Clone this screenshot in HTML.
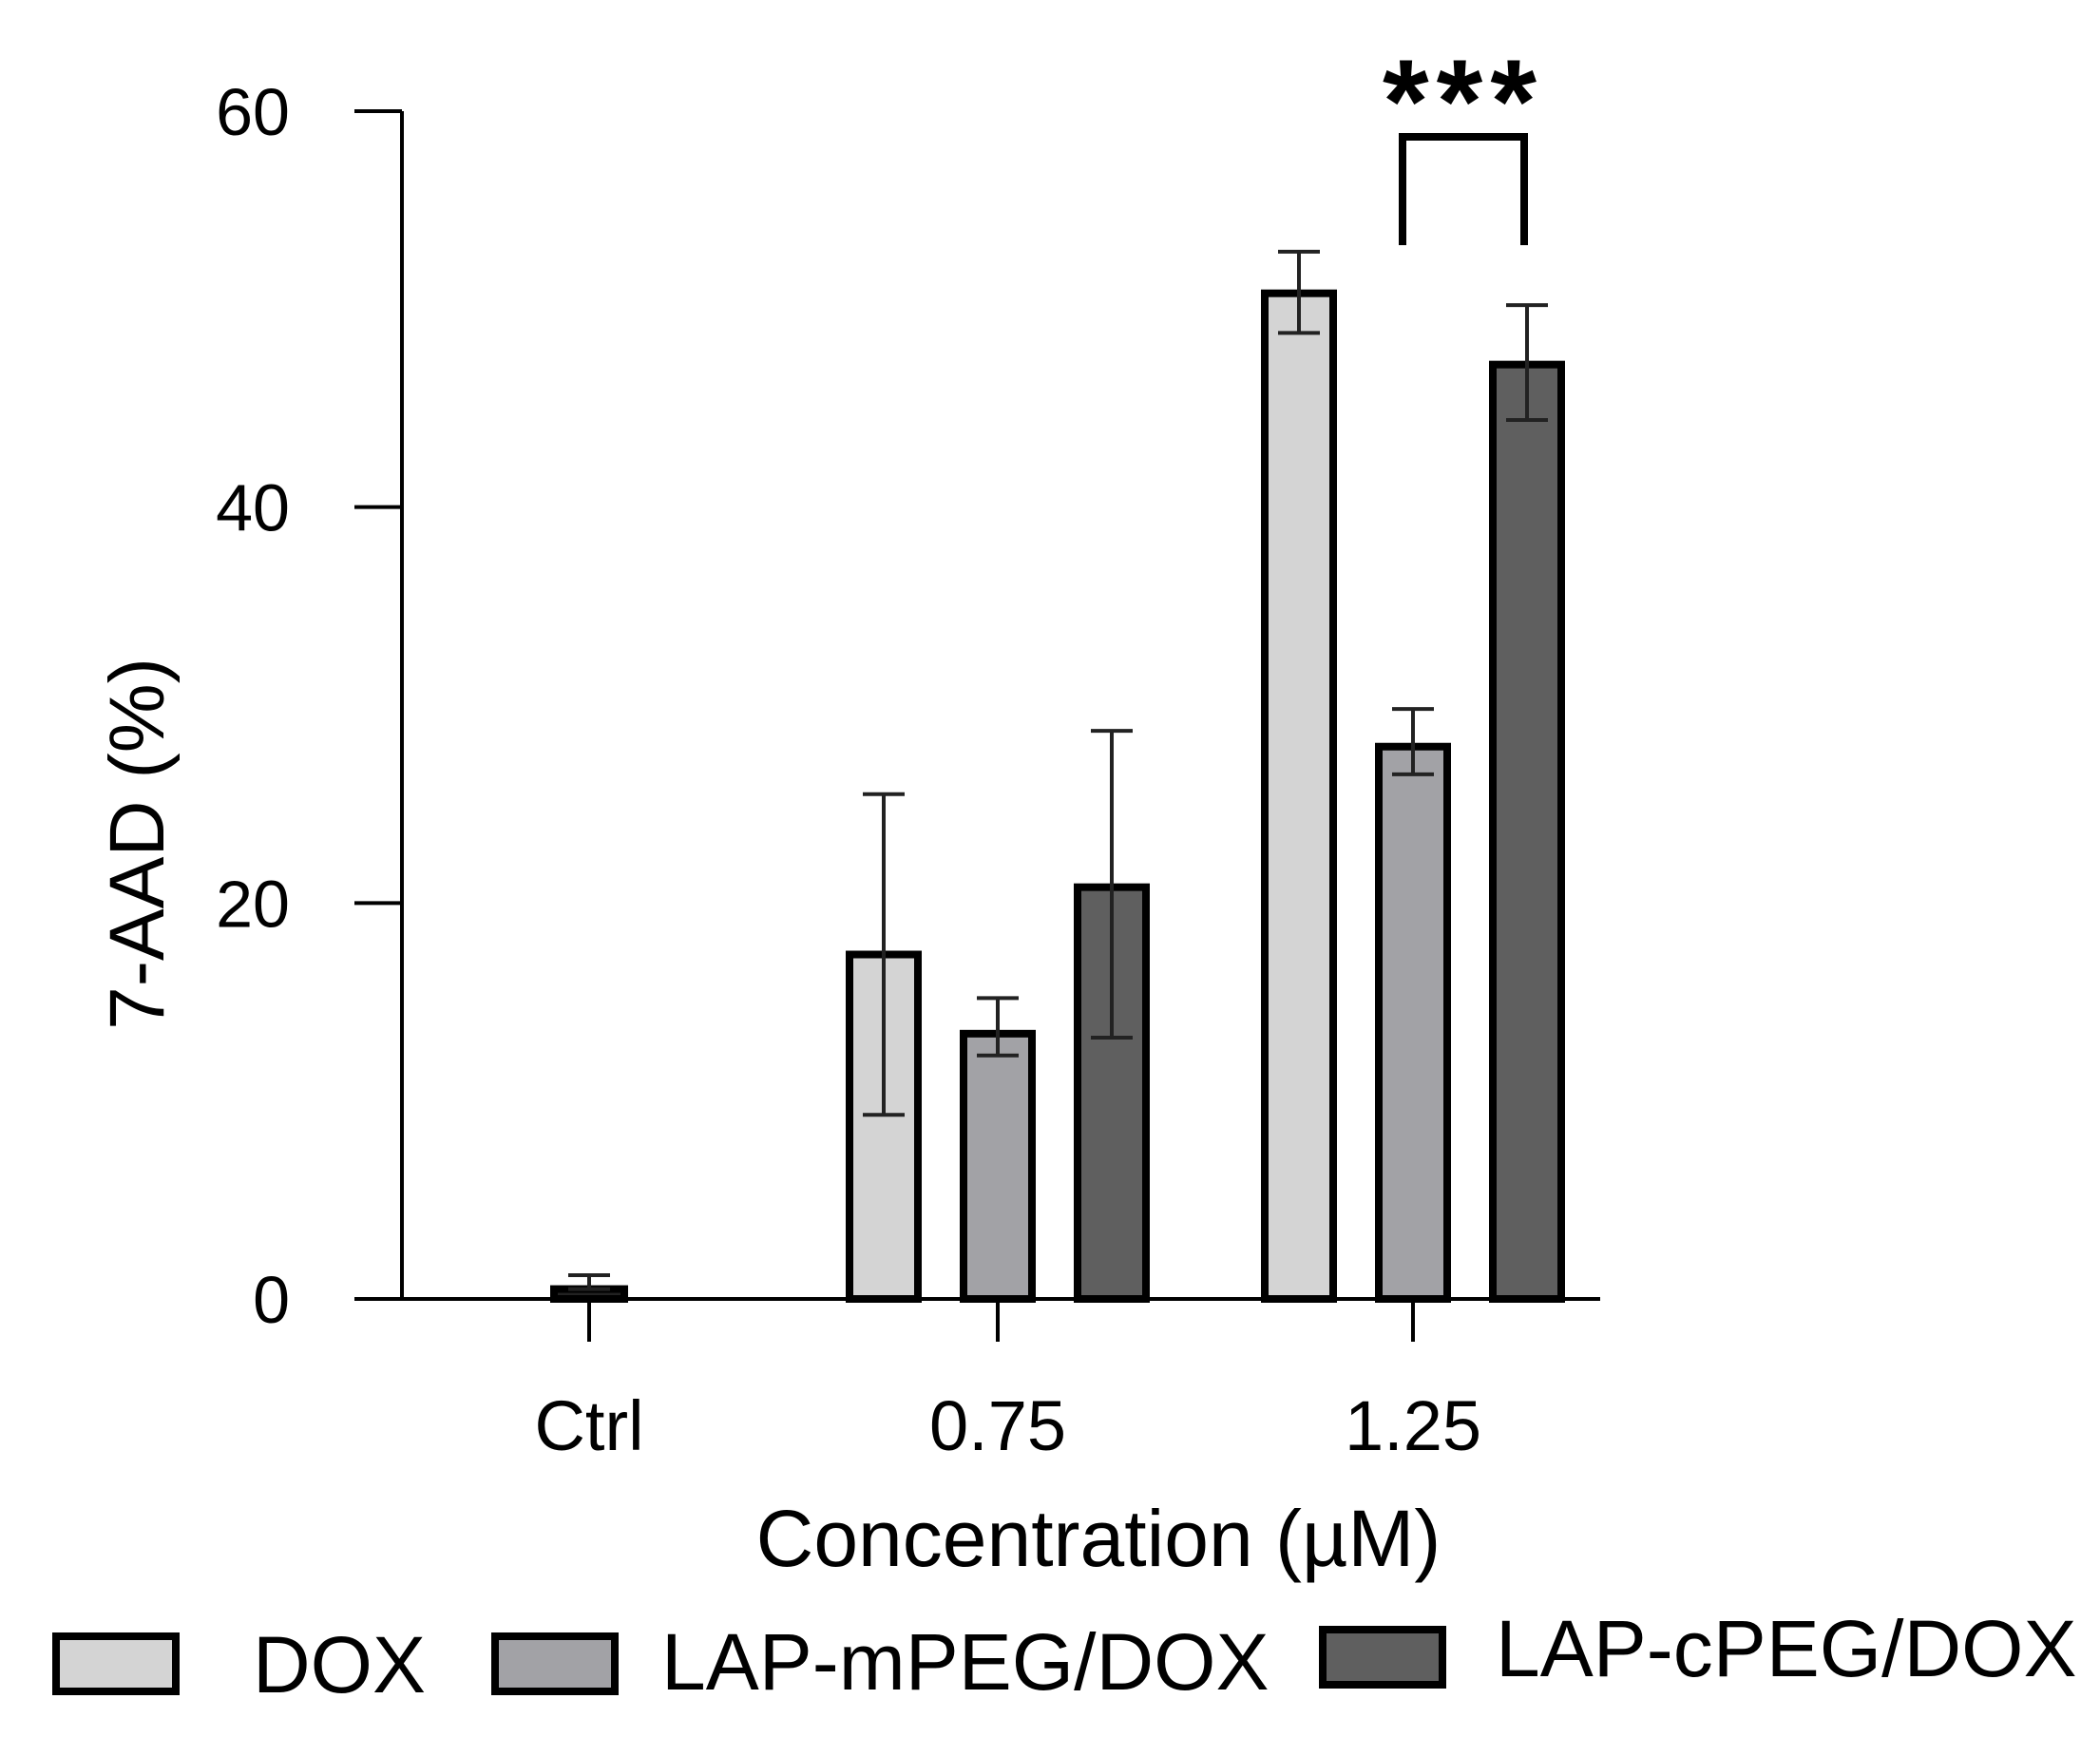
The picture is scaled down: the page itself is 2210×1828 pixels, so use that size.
<!DOCTYPE html>
<html><head><meta charset="utf-8"><style>
html,body{margin:0;padding:0;background:#fff;}
svg{display:block;font-family:"Liberation Sans",Arial,sans-serif;}
</style></head><body>
<svg id="chart" width="2210" height="1828" viewBox="0 0 2210 1828">
<g id="marks"></g>
</svg>
<script>
const categories = ["Ctrl","0.75","1.25"];
const seriesNames = ["DOX","LAP-mPEG/DOX","LAP-cPEG/DOX"];
const doxValues = [null,17.4,50.8];
const doxErr = [null,[9.3,25.5],[48.8,52.9]];
const mpegValues = [0.5,13.4,27.9];
const mpegErr = [[0.5,1.2],[12.3,15.2],[26.5,29.8]];
const cpegValues = [null,20.8,47.2];
const cpegErr = [null,[13.2,28.7],[44.4,50.2]];
const yTicks = [0,20,40,60];

const NS="http://www.w3.org/2000/svg";
const g=document.getElementById('marks');
function el(t,a,p){const e=document.createElementNS(NS,t);for(const k in a)e.setAttribute(k,a[k]);(p||g).appendChild(e);return e;}
const y=v=>1367-(v/60)*1250;
const catX=[620,1050,1487];
const bw=72, gap=120;
const fills=["#d4d4d4","#a2a2a6","#5f5f5f"];
const vals=[doxValues,mpegValues,cpegValues];
const errs=[doxErr,mpegErr,cpegErr];

let ax=el('line',{x1:423,y1:117,x2:423,y2:1367,stroke:'#000','stroke-width':4});

let xa=el('line',{x1:373,y1:1367,x2:1684,y2:1367,stroke:'#000','stroke-width':4});

yTicks.forEach(t=>{
  const l=el('line',{x1:373,y1:y(t),x2:423,y2:y(t),stroke:'#000','stroke-width':4});
  
  const tx=el('text',{x:305,y:y(t)+25,'font-size':70,'text-anchor':'end'});tx.textContent=t;
  
});
categories.forEach((c,i)=>{
  const l=el('line',{x1:catX[i],y1:1367,x2:catX[i],y2:1412,stroke:'#000','stroke-width':4});
  
  const tx=el('text',{x:catX[i],y:1526,'font-size':74,'text-anchor':'middle'});tx.textContent=c;
  
});
categories.forEach((c,i)=>{
  vals.forEach((arr,s)=>{
    const v=arr[i]; if(v==null) return;
    const cx = (i===0)? catX[i] : catX[i]+(s-1)*gap;
    const w = (i===0)?74:bw;
    const b=el('rect',{x:cx-w/2,y:y(v),width:w,height:y(0)-y(v),fill:(i===0?'#222':fills[s]),stroke:'#000','stroke-width':8});
    
    const e=errs[s][i]; if(!e) return;
    const eg=el('g',{stroke:'#222','stroke-width':4});
    
    el('line',{x1:cx,y1:y(e[1]),x2:cx,y2:y(e[0])},eg);
    el('line',{x1:cx-22,y1:y(e[1]),x2:cx+22,y2:y(e[1])},eg);
    el('line',{x1:cx-22,y1:y(e[0]),x2:cx+22,y2:y(e[0])},eg);
  });
});
const br=el('polyline',{points:'1476,258 1476,144 1604,144 1604,258',fill:'none',stroke:'#000','stroke-width':8});

const st=el('text',{x:1540,y:150,'font-size':125,'font-weight':'bold','text-anchor':'middle','letter-spacing':'8'});st.textContent='***';

const yt=el('text',{x:0,y:0,'font-size':82,'text-anchor':'middle',transform:'translate(172,888) rotate(-90)'});yt.textContent='7-AAD (%)';

const xt=el('text',{x:1156,y:1648,'font-size':84,'text-anchor':'middle'});xt.textContent='Concentration (µM)';

const legBox=[[59,1722],[521,1722],[1392,1715]];
const legTx=[[266,1781],[696,1778],[1574,1764]];
seriesNames.forEach((n,s)=>{
  const r=el('rect',{x:legBox[s][0],y:legBox[s][1],width:126,height:58,fill:fills[s],stroke:'#000','stroke-width':8});
  
  const t=el('text',{x:legTx[s][0],y:legTx[s][1],'font-size':84});t.textContent=n;
  
});
</script>
</body></html>
